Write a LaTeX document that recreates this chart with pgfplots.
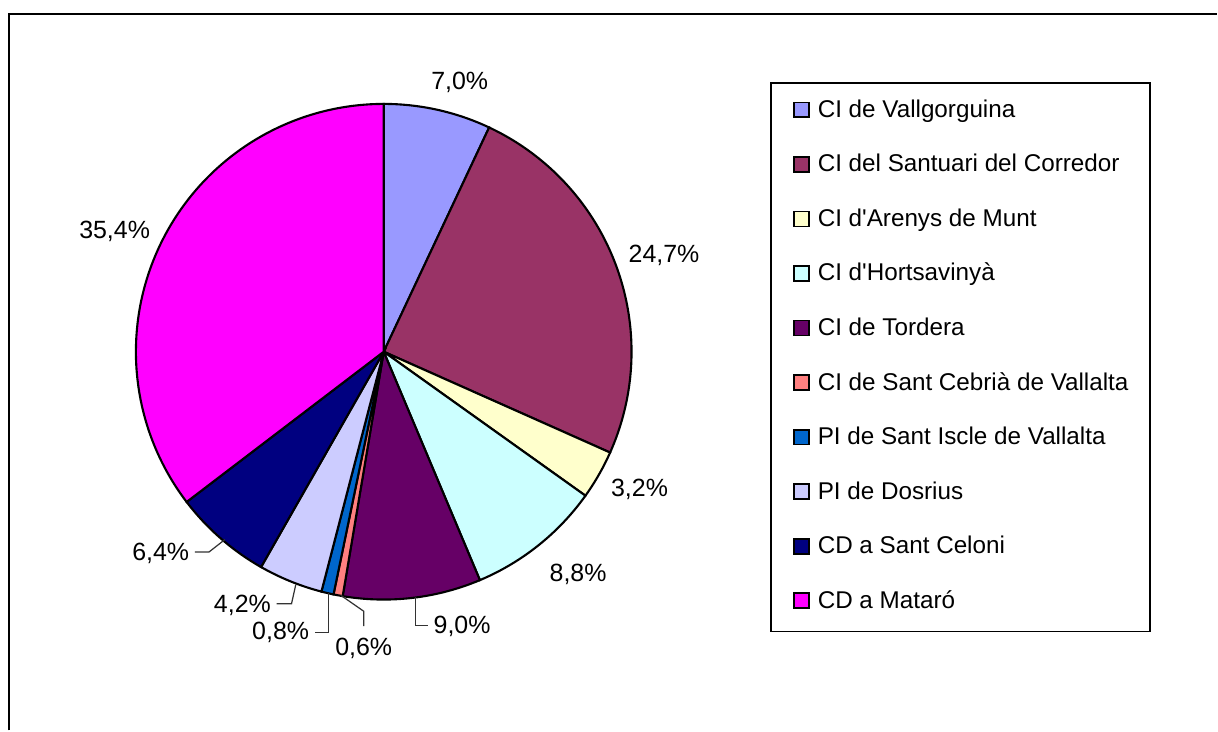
\documentclass[border=0pt]{standalone}
\usepackage{fontspec}
\setmainfont{Liberation Sans}
\usepackage{pgfplots}
\pgfplotsset{compat=1.18}
\definecolor{cA}{RGB}{153,153,255}
\definecolor{cB}{RGB}{153,51,102}
\definecolor{cC}{RGB}{255,255,204}
\definecolor{cD}{RGB}{204,255,255}
\definecolor{cE}{RGB}{102,0,102}
\definecolor{cF}{RGB}{255,128,128}
\definecolor{cG}{RGB}{0,102,204}
\definecolor{cH}{RGB}{204,204,255}
\definecolor{cI}{RGB}{0,0,128}
\definecolor{cJ}{RGB}{255,0,255}
\def\tot{100.1}
% #1 cumulative start (%), #2 value (%), #3 colour, #4 legend text
\newcommand{\slice}[4]{%
  \pgfmathsetmacro\aS{90-3.6*((#1+#2)/\tot)*100}%
  \pgfmathsetmacro\aE{90-3.6*((#1)/\tot)*100}%
  \addplot[fill=#3, draw=black, line width=0.6pt, domain=\aS:\aE, samples=120, variable=\t]
    ({384+248*cos(\t)},{-352+248*sin(\t)}) -- (axis cs:384,-352) -- cycle;
  \addlegendentry{#4}}
\begin{document}
\begin{tikzpicture}
\begin{axis}[
  scale only axis, width=12.18cm, height=7.31cm,
  xmin=0, xmax=1218, ymin=-731, ymax=0,
  hide axis, clip=false,
  legend cell align=left,
  legend style={at={(axis cs:771,-82)}, anchor=north west, draw=black, line width=0.5pt, fill=white,
    font=\fontsize{6.9}{8}\selectfont, inner xsep=6.2pt, inner ysep=2pt,
    row sep=3.09pt, column sep=2.27pt,
    nodes={inner sep=0pt, text height=7.84pt, text depth=4.6pt, anchor=base west}},
  legend image code/.code={\draw[#1, line width=0.5pt, draw=black] (0pt,0pt) rectangle (4.25pt,4.25pt);},
]
\addplot[draw=none, forget plot] coordinates {(0,0) (1218,-731)};
\slice{0}{7.0}{cA}{CI de Vallgorguina}
\slice{7.0}{24.7}{cB}{CI del Santuari del Corredor}
\slice{31.7}{3.2}{cC}{CI d\textquotesingle Arenys de Munt}
\slice{34.9}{8.8}{cD}{CI d\textquotesingle Hortsavinyà}
\slice{43.7}{9.0}{cE}{CI de Tordera}
\slice{52.7}{0.6}{cF}{CI de Sant Cebrià de Vallalta}
\slice{53.3}{0.8}{cG}{PI de Sant Iscle de Vallalta}
\slice{54.1}{4.2}{cH}{PI de Dosrius}
\slice{58.3}{6.4}{cI}{CD a Sant Celoni}
\slice{64.7}{35.4}{cJ}{CD a Mataró}
% frame
\addplot[forget plot, black, line width=0.5pt] coordinates {(9,-731) (9,-14) (1218,-14)};
% leader lines
\addplot[forget plot, black!80, line width=0.35pt] coordinates {(415.7,-597.7) (415.7,-626) (428,-626)};
\addplot[forget plot, black!80, line width=0.35pt] coordinates {(341,-595.7) (364,-611.7) (364,-626.7)};
\addplot[forget plot, black!80, line width=0.35pt] coordinates {(329,-593) (329,-632.7) (315,-632.7)};
\addplot[forget plot, black!80, line width=0.35pt] coordinates {(296,-585) (291.7,-604.3) (276.7,-604.3)};
\addplot[forget plot, black!80, line width=0.35pt] coordinates {(225,-540) (209.3,-552.3) (195,-552.3)};
% labels
\begin{scope}[every node/.style={font=\fontsize{7.1}{8.5}\selectfont, inner sep=0pt}]
\node[anchor=base] at (axis cs:460,-90) {7,0\%};
\node[anchor=base] at (axis cs:664.5,-263) {24,7\%};
\node[anchor=base] at (axis cs:640,-497) {3,2\%};
\node[anchor=base] at (axis cs:578.5,-581.7) {8,8\%};
\node[anchor=base west] at (axis cs:433.3,-634.3) {9,0\%};
\node[anchor=base] at (axis cs:364,-656) {0,6\%};
\node[anchor=base east] at (axis cs:310,-640) {0,8\%};
\node[anchor=base east] at (axis cs:271.7,-612.7) {4,2\%};
\node[anchor=base east] at (axis cs:190,-560.7) {6,4\%};
\node[anchor=base] at (axis cs:114.7,-239) {35,4\%};
\end{scope}
\end{axis}
\end{tikzpicture}
\end{document}
